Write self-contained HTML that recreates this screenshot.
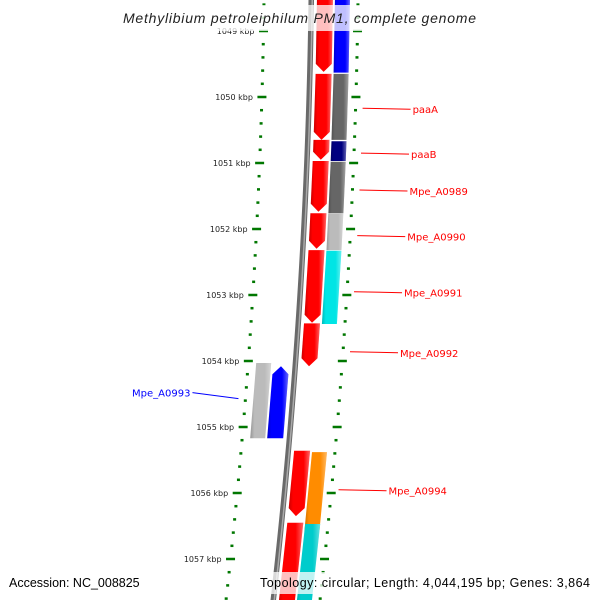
<!DOCTYPE html>
<html><head><meta charset="utf-8"><style>
html,body{margin:0;padding:0;background:#fff;}
svg{display:block;font-family:"DejaVu Sans","Liberation Sans",sans-serif;}
</style></head><body>
<svg id="map" width="600" height="600" viewBox="0 0 600 600" xmlns="http://www.w3.org/2000/svg">
<defs>
<linearGradient id="shade" x1="0" y1="0" x2="1" y2="0">
<stop offset="0" stop-color="#000" stop-opacity="0.2"/>
<stop offset="0.2" stop-color="#000" stop-opacity="0"/>
<stop offset="0.7" stop-color="#fff" stop-opacity="0"/>
<stop offset="1" stop-color="#fff" stop-opacity="0.4"/>
</linearGradient>
</defs>
<g id="ticks"></g>
<g id="backbone-g"></g>
<g id="genes"></g>
<g id="labels"></g>
<rect x="0" y="5" width="600" height="26" fill="#fff" fill-opacity="0.75"/>
<text x="123" y="23" font-size="14" font-style="italic" fill="#222" textLength="353" style="font-family:'Liberation Sans',sans-serif">Methylibium petroleiphilum PM1, complete genome</text>
<text x="9" y="587" font-size="12.5" fill="#000" style="font-family:'Liberation Sans',sans-serif">Accession: NC_008825</text>
<rect x="257" y="572" width="336" height="22" fill="#fff" fill-opacity="0.75"/>
<text x="260" y="587" font-size="12.5" fill="#000" textLength="330" style="font-family:'Liberation Sans',sans-serif">Topology: circular; Length: 4,044,195 bp; Genes: 3,864</text>
</svg>
<script>
// kbp positions
const tickStart = 1048.6, tickEnd = 1058.0, tickStep = 0.2;
const majorKbp = [1049,1050,1051,1052,1053,1054,1055,1056,1057];
// genes: start kbp, end kbp, track (1 = fwd outer red, 2 = fwd COG, -1 = rev inner, -2 = rev outer), color, arrow
const geneStart = [1048.4,1049.65,1050.65,1050.97,1051.76,1052.32,1053.43,1055.36,1056.45,1048.4,1049.65,1050.67,1050.98,1051.77,1052.33,1055.38,1056.47,1054.08,1054.03];
const geneEnd   = [1049.62,1050.65,1050.95,1051.74,1052.30,1053.42,1054.08,1056.35,1057.8,1049.63,1050.65,1050.97,1051.76,1052.32,1053.44,1056.58,1057.8,1055.17,1055.17];
const geneTrack = [1,1,1,1,1,1,1,1,1,2,2,2,2,2,2,2,2,-1,-2];
const geneColor = ["#ff0000","#ff0000","#ff0000","#ff0000","#ff0000","#ff0000","#ff0000","#ff0000","#ff0000","#0000ff","#666666","#000080","#666666","#bbbbbb","#00e5e5","#ff8c00","#00cccc","#0000ff","#bbbbbb"];
const geneArrow = [1,1,1,1,1,1,1,1,0,0,0,0,0,0,0,0,0,1,0];
// labels
const labelText = ["paaA","paaB","Mpe_A0989","Mpe_A0990","Mpe_A0991","Mpe_A0992","Mpe_A0994","Mpe_A0993"];
const labelKbp  = [1050.17,1050.85,1051.41,1052.1,1052.95,1053.86,1055.95,1054.57];
const labelSide = [1,1,1,1,1,1,1,-1];

const NS="http://www.w3.org/2000/svg";
function yOf(k){return 97+(k-1050)*66;}
function shift(y){return 0.0133*y+0.0000833*y*y;}
function xOf(off,y){return 311+off-shift(y);}
function mk(tag,attrs,parent){const e=document.createElementNS(NS,tag);for(const k in attrs)e.setAttribute(k,attrs[k]);parent.appendChild(e);return e;}

// backbone
const bb=document.getElementById('backbone-g');
let pts=[];for(let y=-5;y<=605;y+=10)pts.push(xOf(-2.5,y)+","+y);
for(let y=605;y>=-5;y-=10)pts.push(xOf(3,y)+","+y);
const bbp=mk('polygon',{points:pts.join(' '),fill:'#6a6a6a'},bb);


let pts2=[];for(let y=-5;y<=605;y+=10)pts2.push(xOf(0.5,y)+","+y);
for(let y=605;y>=-5;y-=10)pts2.push(xOf(2,y)+","+y);
mk('polygon',{points:pts2.join(' '),fill:'#aaa'},bb);

// ticks
const tg=document.getElementById('ticks');
for(let k=tickStart;k<=tickEnd+1e-9;k+=tickStep){
  const kr=Math.round(k*10)/10; const y=yOf(kr);
  const major=majorKbp.some(m=>Math.abs(m-kr)<1e-6);
  [-1,1].forEach(side=>{
    const off=side*47;
    const x=xOf(off,y);
    const w=major?9:3, h=2.5;
    const r=mk('rect',{x:x-w/2,y:y-h/2,width:w,height:h,fill:'#007700'},tg);
    
    
  });
  if(major){
    const t=mk('text',{x:xOf(-56,y),y:y+3,'text-anchor':'end','font-size':'8',fill:'#222'},tg);
    t.textContent=kr+" kbp";
    
    
  }
}

// genes
const gg=document.getElementById('genes');
const trackOff={1:[6,22],2:[24,39],'-1':[-22,-6],'-2':[-39,-24]};
for(let i=0;i<geneStart.length;i++){
  const y1=yOf(geneStart[i]), y2=yOf(geneEnd[i]);
  const [a,b]=trackOff[geneTrack[i]];
  let p;
  if(geneArrow[i] && geneTrack[i]>0){
    const yt=y2-8, ym=y2;
    p=[[a,y1],[b,y1],[b,yt],[(a+b)/2,ym],[a,yt]];
  } else if(geneArrow[i]){
    const yt=y1+8;
    p=[[(a+b)/2,y1],[b,yt],[b,y2],[a,y2],[a,yt]];
  } else p=[[a,y1],[b,y1],[b,y2],[a,y2]];
  const s=p.map(q=>xOf(q[0],q[1]).toFixed(1)+","+q[1].toFixed(1)).join(' ');
  const g=mk('polygon',{points:s,fill:geneColor[i]},gg);
  
  
  mk('polygon',{points:s,fill:'url(#shade)'},gg);
}

// labels
const lg=document.getElementById('labels');
for(let i=0;i<labelText.length;i++){
  const y=yOf(labelKbp[i]);
  const col=labelSide[i]>0?'#ff0000':'#0000ff';
  let x0,x1,tx,anchor,yEnd;
  if(labelSide[i]>0){x0=xOf(54,y);x1=x0+48;tx=x1+2;anchor='start';yEnd=y+1;}
  else{x0=xOf(-54,y);x1=x0-46;tx=x1-2;anchor='end';yEnd=y-6;}
  const l=mk('line',{x1:x0,y1:y,x2:x1,y2:yEnd,stroke:col,'stroke-width':1},lg);
  
  
  const t=mk('text',{x:tx,y:yEnd+4,'text-anchor':anchor,'font-size':'10',fill:col},lg);
  t.textContent=labelText[i];
  
  
}
</script>
</body></html>
